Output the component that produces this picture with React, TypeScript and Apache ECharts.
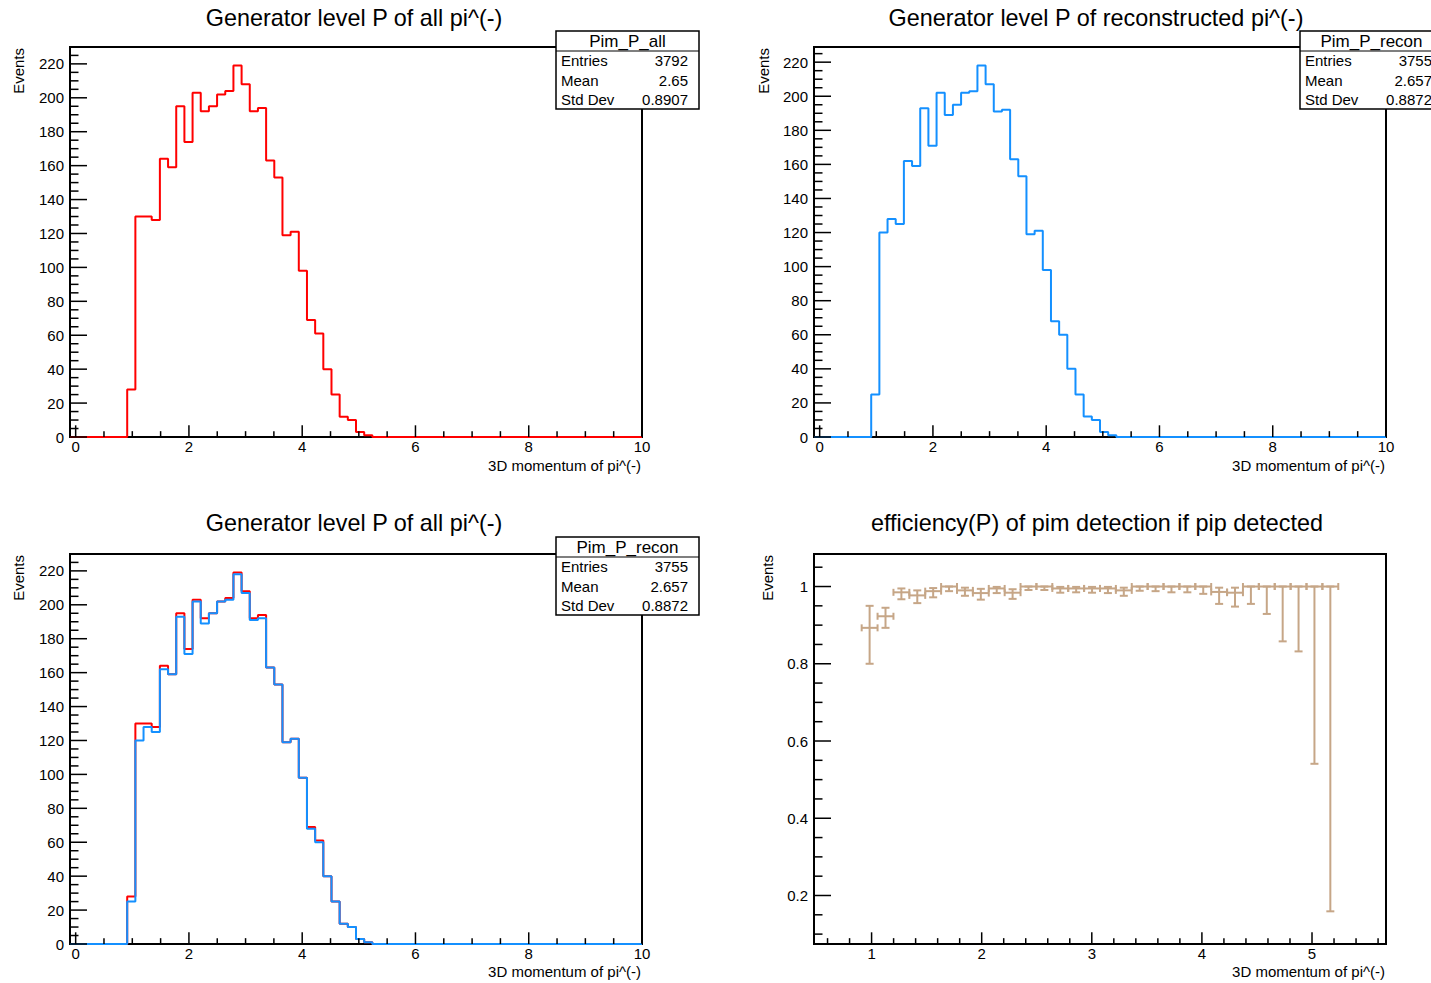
import React, { useEffect, useRef } from "react";
import * as echarts from "echarts";

// ---------------- data ----------------
const NBINS = 70;
const X_LOW = -0.1;
const X_HIGH = 10;

// Generator level P of all pi^(-) (Pim_P_all), 70 bins from -0.1 to 10
const allCounts = [
  0, 0, 0, 0, 0, 0, 0, 28, 130, 130, 128, 164, 159, 195, 174, 203, 192, 195, 202, 204,
  219, 208, 192, 194, 163, 153, 119, 121, 98, 69, 61, 40, 25, 12, 10, 3, 1, 0, 0, 0,
  0, 0, 0, 0, 0, 0, 0, 0, 0, 0, 0, 0, 0, 0, 0, 0, 0, 0, 0, 0,
  0, 0, 0, 0, 0, 0, 0, 0, 0, 0,
];
// Generator level P of reconstructed pi^(-) (Pim_P_recon)
const reconCounts = [
  0, 0, 0, 0, 0, 0, 0, 25, 120, 128, 125, 162, 159, 193, 171, 202, 189, 195, 202, 203,
  218, 207, 191, 192, 163, 153, 119, 121, 98, 68, 60, 40, 25, 12, 10, 3, 1, 0, 0, 0,
  0, 0, 0, 0, 0, 0, 0, 0, 0, 0, 0, 0, 0, 0, 0, 0, 0, 0, 0, 0,
  0, 0, 0, 0, 0, 0, 0, 0, 0, 0,
];

// efficiency points: first filled bin index, value, lower and upper bound
const effFirstBin = 7;
const effValues = [
  0.893, 0.923, 0.985, 0.977, 0.988, 1.0, 0.99, 0.983, 0.995, 0.984,
  1.0, 1.0, 0.995, 0.995, 0.995, 0.995, 0.99, 1.0, 1.0, 1.0,
  1.0, 1.0, 0.986, 0.984, 1.0, 1.0, 1.0, 1.0, 1.0, 1.0,
];
const effLow = [
  0.8, 0.893, 0.967, 0.957, 0.972, 0.988, 0.976, 0.966, 0.983, 0.968,
  0.991, 0.991, 0.984, 0.985, 0.984, 0.983, 0.976, 0.989, 0.988, 0.985,
  0.985, 0.981, 0.955, 0.948, 0.955, 0.929, 0.858, 0.832, 0.541, 0.159,
];
const effHigh = [
  0.95, 0.945, 0.995, 0.99, 0.996, 1.0, 0.997, 0.994, 0.999, 0.993,
  1.0, 1.0, 0.999, 0.999, 0.999, 0.999, 0.997, 1.0, 1.0, 1.0,
  1.0, 1.0, 0.997, 0.997, 1.0, 1.0, 1.0, 1.0, 1.0, 1.0,
];

// tick labels
const histXTicks = [0, 2, 4, 6, 8, 10];
const histYTicks = [0, 20, 40, 60, 80, 100, 120, 140, 160, 180, 200, 220];
const effXTicks = [1, 2, 3, 4, 5];
const effYTicks = [0.2, 0.4, 0.6, 0.8, 1];

// stats
const statsAll = { name: "Pim_P_all", entries: "3792", mean: "2.65", std: "0.8907" };
const statsRecon = { name: "Pim_P_recon", entries: "3755", mean: "2.657", std: "0.8872" };

// ---------------- style ----------------
const FONT = "'Liberation Sans', Arial, Helvetica, sans-serif";
const RED = "#ff0000";
const BLUE = "#1490ff";
const TAN = "#c6a687";

const binEdges = Array.from({ length: NBINS + 1 }, (_, i) => X_LOW + (i * (X_HIGH - X_LOW)) / NBINS);
const stepData = (counts: number[]) =>
  counts.map((c, i) => [binEdges[i], c]).concat([[binEdges[NBINS], counts[NBINS - 1]]]);

const HIST_YMAX = 219 * 1.05;
const RECON_YMAX = 218 * 1.05;
const EFF_XMIN = 0.477;
const EFF_XMAX = 5.672;
const EFF_YMIN = 0.0744;
const EFF_YMAX = 1.0842;

function range(a: number, b: number, step: number) {
  const out: number[] = [];
  for (let v = a; v <= b + 1e-9; v += step) out.push(Math.round(v * 1000) / 1000);
  return out;
}

// tick items: [kind(0=x,1=y), value, length, base]
function tickItems(
  xMajor: number[], xMinor: number[], yMajor: number[], yMinor: number[],
  xBase: number, yBase: number, xLen: number, yLen: number
) {
  const items: number[][] = [];
  xMajor.forEach((v) => items.push([0, v, xLen, yBase]));
  xMinor.forEach((v) => items.push([0, v, xLen / 2, yBase]));
  yMajor.forEach((v) => items.push([1, v, yLen, xBase]));
  yMinor.forEach((v) => items.push([1, v, yLen / 2, xBase]));
  return items;
}

const tickRender = (params: any, api: any) => {
  const kind = api.value(0);
  const v = api.value(1);
  const len = api.value(2);
  const base = api.value(3);
  const st = { stroke: "#000", lineWidth: 1.5 };
  if (kind === 0) {
    const p = api.coord([v, base]);
    return { type: "line", shape: { x1: p[0], y1: p[1], x2: p[0], y2: p[1] - len }, style: st };
  }
  const p = api.coord([base, v]);
  return { type: "line", shape: { x1: p[0], y1: p[1], x2: p[0] + len, y2: p[1] }, style: st };
};

const effRender = (params: any, api: any) => {
  const cx = api.value(0), cy = api.value(1);
  const c = api.coord([cx, cy]);
  const l = api.coord([api.value(2), cy]);
  const r = api.coord([api.value(3), cy]);
  const lo = api.coord([cx, api.value(4)]);
  const hi = api.coord([cx, api.value(5)]);
  const st = { stroke: TAN, lineWidth: 2 };
  const cw = 4, ch = 3.5;
  return {
    type: "group",
    children: [
      { type: "line", shape: { x1: l[0], y1: c[1], x2: r[0], y2: c[1] }, style: st },
      { type: "line", shape: { x1: c[0], y1: lo[1], x2: c[0], y2: hi[1] }, style: st },
      { type: "line", shape: { x1: c[0] - cw, y1: lo[1], x2: c[0] + cw, y2: lo[1] }, style: st },
      { type: "line", shape: { x1: c[0] - cw, y1: hi[1], x2: c[0] + cw, y2: hi[1] }, style: st },
      { type: "line", shape: { x1: l[0], y1: c[1] - ch, x2: l[0], y2: c[1] + ch }, style: st },
      { type: "line", shape: { x1: r[0], y1: c[1] - ch, x2: r[0], y2: c[1] + ch }, style: st },
    ],
  };
};

function txt(x: number, y: number, text: string, size: number, align = "center", extra: any = {}) {
  return {
    type: "text",
    x,
    y,
    z: 100,
    ...extra,
    style: {
      text,
      font: `${size}px ${FONT}`,
      fill: "#000",
      textAlign: align,
      textVerticalAlign: "middle",
    },
  };
}

function statsBox(x: number, y: number, s: any) {
  const w = 143, h = 78;
  return [
    { type: "rect", z: 99, shape: { x, y, width: w, height: h }, style: { fill: "#fff", stroke: "#000", lineWidth: 1.5 } },
    { type: "line", z: 100, shape: { x1: x, y1: y + 20, x2: x + w, y2: y + 20 }, style: { stroke: "#000", lineWidth: 1.2 } },
    txt(x + w / 2, y + 10, s.name, 17),
    txt(x + 5, y + 29, "Entries", 15, "left"),
    txt(x + w - 11, y + 29, s.entries, 15, "right"),
    txt(x + 5, y + 49, "Mean", 15, "left"),
    txt(x + w - 11, y + 49, s.mean, 15, "right"),
    txt(x + 5, y + 68, "Std Dev", 15, "left"),
    txt(x + w - 11, y + 68, s.std, 15, "right"),
  ];
}

function yTitle(x: number, y: number) {
  return txt(x, y, "Events", 15, "right", { rotation: Math.PI / 2 });
}

export default function App() {
  const ref = useRef<HTMLDivElement>(null);

  useEffect(() => {
    if (!ref.current) return;
    const chart = echarts.init(ref.current, undefined, { renderer: "svg" });

    const grids = [
      { left: 70, top: 47, width: 572, height: 390 },
      { left: 814, top: 47, width: 572, height: 390 },
      { left: 70, top: 554, width: 572, height: 390 },
      { left: 814, top: 554, width: 572, height: 390 },
    ].map((g) => ({ ...g, show: true, borderColor: "#000", borderWidth: 2, backgroundColor: "transparent", containLabel: false }));

    const xLabel = (vals: number[]) => ({
      customValues: vals,
      fontSize: 15,
      fontFamily: FONT,
      color: "#000",
      margin: 2,
    });
    const yLabel = (vals: number[]) => ({
      customValues: vals,
      fontSize: 15,
      fontFamily: FONT,
      color: "#000",
      margin: 6,
    });
    const axisCommon = {
      type: "value",
      axisLine: { show: false },
      axisTick: { show: false },
      splitLine: { show: false },
    };

    const xAxis = [
      { ...axisCommon, gridIndex: 0, min: X_LOW, max: X_HIGH, axisLabel: xLabel(histXTicks) },
      { ...axisCommon, gridIndex: 1, min: X_LOW, max: X_HIGH, axisLabel: xLabel(histXTicks) },
      { ...axisCommon, gridIndex: 2, min: X_LOW, max: X_HIGH, axisLabel: xLabel(histXTicks) },
      { ...axisCommon, gridIndex: 3, min: EFF_XMIN, max: EFF_XMAX, axisLabel: xLabel(effXTicks) },
    ];
    const yAxis = [
      { ...axisCommon, gridIndex: 0, min: 0, max: HIST_YMAX, axisLabel: yLabel(histYTicks) },
      { ...axisCommon, gridIndex: 1, min: 0, max: RECON_YMAX, axisLabel: yLabel(histYTicks) },
      { ...axisCommon, gridIndex: 2, min: 0, max: HIST_YMAX, axisLabel: yLabel(histYTicks) },
      { ...axisCommon, gridIndex: 3, min: EFF_YMIN, max: EFF_YMAX, axisLabel: yLabel(effYTicks) },
    ];

    const histXMinor = range(0.5, 10, 0.5).filter((v) => v % 2 !== 0);
    const histYMinorA = range(5, HIST_YMAX, 5).filter((v) => v % 20 !== 0);
    const histYMinorB = range(5, RECON_YMAX, 5).filter((v) => v % 20 !== 0);
    const effXMinor = range(0.6, 5.6, 0.2).filter((v) => Math.abs(v - Math.round(v)) > 1e-6);
    const effYMinor = range(0.1, 1.05, 0.05).filter((v) => Math.abs(v * 5 - Math.round(v * 5)) > 1e-6);

    const tickSeries = (idx: number, items: number[][]) => ({
      type: "custom",
      xAxisIndex: idx,
      yAxisIndex: idx,
      renderItem: tickRender,
      data: items,
      silent: true,
      z: 5,
    });

    const histLine = (idx: number, counts: number[], color: string, z = 3) => ({
      type: "line",
      xAxisIndex: idx,
      yAxisIndex: idx,
      step: "end",
      showSymbol: false,
      symbol: "none",
      data: stepData(counts),
      lineStyle: { color, width: 2 },
      itemStyle: { color },
      z,
      silent: true,
    });

    const effData = effValues.map((v, i) => {
      const b = effFirstBin + i;
      const lo = binEdges[b], hi = binEdges[b + 1];
      return [(lo + hi) / 2, v, lo, hi, effLow[i], effHigh[i]];
    });

    const series: any[] = [
      histLine(0, allCounts, RED),
      histLine(1, reconCounts, BLUE),
      histLine(2, allCounts, RED, 3),
      histLine(2, reconCounts, BLUE, 4),
      {
        type: "custom",
        xAxisIndex: 3,
        yAxisIndex: 3,
        renderItem: effRender,
        data: effData,
        silent: true,
        z: 3,
      },
      tickSeries(0, tickItems(histXTicks, histXMinor, histYTicks, histYMinorA, X_LOW, 0, 11.7, 17)),
      tickSeries(1, tickItems(histXTicks, histXMinor, histYTicks, histYMinorB, X_LOW, 0, 11.7, 17)),
      tickSeries(2, tickItems(histXTicks, histXMinor, histYTicks, histYMinorA, X_LOW, 0, 11.7, 17)),
      tickSeries(3, tickItems(effXTicks, effXMinor, effYTicks, effYMinor, EFF_XMIN, EFF_YMIN, 11.7, 17)),
    ];

    const graphic: any[] = [
      txt(354, 18, "Generator level P of all pi^(-)", 23.4),
      txt(1096, 18, "Generator level P of reconstructed pi^(-)", 23.4),
      txt(354, 523, "Generator level P of all pi^(-)", 23.4),
      txt(1097, 523, "efficiency(P) of pim detection if pip detected", 23.4),
      yTitle(18, 48),
      yTitle(763, 48),
      yTitle(18, 555),
      yTitle(767, 555),
      txt(641, 465, "3D momentum of pi^(-)", 15, "right"),
      txt(1385, 465, "3D momentum of pi^(-)", 15, "right"),
      txt(641, 971, "3D momentum of pi^(-)", 15, "right"),
      txt(1385, 971, "3D momentum of pi^(-)", 15, "right"),
      ...statsBox(556, 31, statsAll),
      ...statsBox(1300, 31, statsRecon),
      ...statsBox(556, 537, statsRecon),
    ];

    chart.setOption({
      animation: false,
      backgroundColor: "#ffffff",
      grid: grids,
      xAxis,
      yAxis,
      series,
      graphic,
    });

    return () => chart.dispose();
  }, []);

  return (
    <div
      ref={ref}
      style={{ position: "fixed", left: 0, top: 0, width: 1431, height: 983, background: "#fff" }}
    />
  );
}
